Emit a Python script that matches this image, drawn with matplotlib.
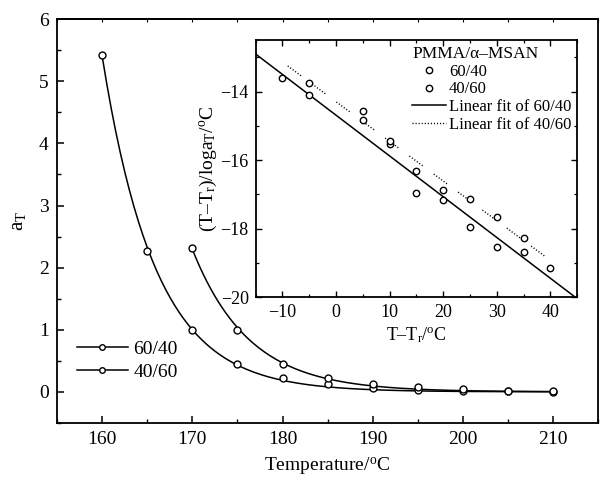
#!/usr/bin/env python3
"""Shift factor a_T vs temperature for PMMA/alpha-MSAN blends, with WLF-type inset."""

import numpy as np
import matplotlib
matplotlib.use("Agg")
import matplotlib.pyplot as plt
from matplotlib.lines import Line2D
from matplotlib.ticker import MultipleLocator

plt.rcParams.update({
    "font.family": ["Liberation Serif", "DejaVu Serif"],
    "mathtext.fontset": "custom",
    "mathtext.rm": "Liberation Serif",
    "mathtext.it": "Liberation Serif:italic",
    "font.size": 14,
    "axes.linewidth": 1.3,
    "xtick.direction": "in",
    "ytick.direction": "in",
})

# main panel: shift factor a_T
temp_6040 = np.array([160, 165, 170, 175, 180, 185, 190, 195, 200, 205, 210])
aT_6040 = np.array([5.43, 2.27, 1.00, 0.45, 0.22, 0.13, 0.065, 0.035, 0.02, 0.008, 0.005])
temp_4060 = np.array([170, 175, 180, 185, 190, 195, 200, 205, 210])
aT_4060 = np.array([2.31, 1.00, 0.45, 0.23, 0.12, 0.07, 0.04, 0.015, 0.01])

# inset: (T - Tr)/log a_T
dT_6040 = np.array([-10, -5, 5, 10, 15, 20, 25, 30, 35, 40])
wlf_6040 = np.array([-13.59, -14.10, -14.83, -15.54, -16.97, -17.17,
                     -17.96, -18.53, -18.67, -19.15])
dT_4060 = np.array([-5, 5, 10, 15, 20, 25, 30, 35])
wlf_4060 = np.array([-13.74, -14.55, -15.45, -16.33, -16.86, -17.13,
                     -17.65, -18.27])

DOTS = (0, (0.8, 1.4, 0.8, 1.4, 0.8, 1.4, 0.8, 1.4, 0.8, 1.4, 0.8, 10))


def exp_fit(t, a):
    # log-linear fit, weighted so it behaves like a fit on a itself
    k, c = np.polyfit(t, np.log(a), 1, w=a)
    tt = np.linspace(t.min(), t.max(), 200)
    return tt, np.exp(c + k * tt)


fig = plt.figure(figsize=(6.0, 4.8), dpi=100)
ax = fig.add_axes([0.095, 0.119, 0.902, 0.841])

mk = dict(marker="o", ms=5, mfc="white", mec="black", mew=1.0, ls="none")
ax.plot(temp_6040, aT_6040, **mk, zorder=3)
ax.plot(temp_4060, aT_4060, **mk, zorder=3)
for t, a in [(temp_6040, aT_6040), (temp_4060, aT_4060)]:
    tt, yy = exp_fit(t, a)
    ax.plot(tt, yy, color="black", lw=1.1)

ax.set_xlim(155, 215)
ax.set_ylim(-0.5, 6)
ax.xaxis.set_major_locator(MultipleLocator(10))
ax.xaxis.set_minor_locator(MultipleLocator(5))
ax.yaxis.set_major_locator(MultipleLocator(1))
ax.yaxis.set_minor_locator(MultipleLocator(0.5))
ax.tick_params(which="major", length=5, width=1.1, pad=6)
ax.tick_params(which="minor", length=3, width=1.0)
top = ax.secondary_xaxis("top")
top.xaxis.set_major_locator(MultipleLocator(5))
top.tick_params(direction="in", length=2, width=0.8, labeltop=False)
ax.set_xlabel(r"Temperature/$^{\mathrm{o}}$C", labelpad=5)
ax.set_ylabel(r"a$_{\mathrm{T}}$", fontsize=15, labelpad=8)

h_main = [Line2D([], [], color="black", lw=1.1, marker="o", ms=4,
                 mfc="white", mec="black", mew=1.0) for _ in range(2)]
ax.legend(h_main, ["60/40", "40/60"], loc="lower left",
          bbox_to_anchor=(0.005, 0.06), frameon=False, fontsize=14,
          handlelength=2.6, handletextpad=0.3, labelspacing=0.3)

# inset
ins = fig.add_axes([0.426, 0.381, 0.536, 0.535])
mk2 = dict(marker="o", ms=4.6, mfc="white", mec="black", mew=1.0, ls="none")
ins.plot(dT_6040, wlf_6040, **mk2, zorder=3)
ins.plot(dT_4060, wlf_4060, **mk2, zorder=3)

b1, a1 = np.polyfit(dT_6040, wlf_6040, 1)
x1 = np.linspace(dT_6040.min() - 5, dT_6040.max() + 5, 50)
ins.plot(x1, a1 + b1 * x1, color="black", lw=1.1)
b2, a2 = np.polyfit(dT_4060, wlf_4060, 1)
x2 = np.linspace(dT_4060.min() - 4, dT_4060.max() + 4, 50)
ins.plot(x2, a2 + b2 * x2, color="black", lw=1.0, ls=DOTS)

ins.set_xlim(-15, 45)
ins.set_ylim(-20, -12.5)
ins.xaxis.set_major_locator(MultipleLocator(10))
ins.xaxis.set_minor_locator(MultipleLocator(5))
ins.yaxis.set_major_locator(MultipleLocator(2))
ins.yaxis.set_minor_locator(MultipleLocator(1))
ins.tick_params(which="both", top=True, right=True, labelsize=13, pad=5)
ins.tick_params(which="major", length=4, width=1.0)
ins.tick_params(which="minor", length=2.5, width=0.9)
ins.set_xlabel(r"T–T$_{\mathrm{r}}$/$^{\mathrm{o}}$C", fontsize=13, labelpad=3)
ins.set_ylabel(r"(T–T$_{\mathrm{r}}$)/loga$_{\mathrm{T}}$/$^{\mathrm{o}}$C",
               fontsize=14, labelpad=1)

h_ins = [
    Line2D([], [], **mk2),
    Line2D([], [], **mk2),
    Line2D([], [], color="black", lw=1.1),
    Line2D([], [], color="black", lw=1.0, ls=(0, (0.8, 1.4))),
]
ins.legend(h_ins, ["60/40", "40/60", "Linear fit of 60/40",
                   "Linear fit of 40/60"],
           title="PMMA/α–MSAN", loc="upper right", frameon=False,
           fontsize=12, title_fontsize=12.5, handlelength=2.0,
           handletextpad=0.2, labelspacing=0.1, borderaxespad=0.05,
           borderpad=0.3, alignment="left")

fig.savefig("out.png", dpi=100)
